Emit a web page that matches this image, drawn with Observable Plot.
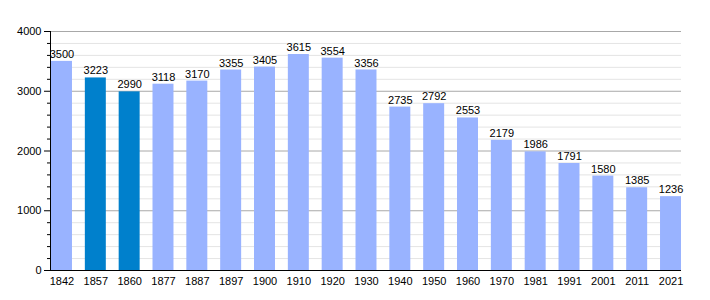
<!DOCTYPE html>
<html><head><meta charset="utf-8">
<script src="https://cdn.jsdelivr.net/npm/d3@7"></script>
<script src="https://cdn.jsdelivr.net/npm/@observablehq/plot@0.6"></script>
<style>body{margin:0;background:#fff;font-family:"Liberation Sans",Arial,sans-serif}</style>
</head><body><div id="chart"></div>
<script>
const years = ["1842","1857","1860","1877","1887","1897","1900","1910","1920","1930","1940","1950","1960","1970","1981","1991","2001","2011","2021"];
const population = [3500,3223,2990,3118,3170,3355,3405,3615,3554,3356,2735,2792,2553,2179,1986,1791,1580,1385,1236];
const highlighted = ["1857","1860"];
const majorTicks = [0,1000,2000,3000,4000];
const minorTicks = d3.range(0,4001,200).filter(v => v % 1000 !== 0);

const data = years.map((y,i) => ({year:y, pop:population[i], hl: highlighted.includes(y)}));

const chart = Plot.plot({
  width: 710, height: 300,
  marginLeft: 51, marginRight: 29, marginTop: 31, marginBottom: 30,
  style: {fontFamily: "Liberation Sans, Arial, sans-serif", fontSize: "11px", color: "#000"},
  x: {domain: years, paddingInner: 0.38, paddingOuter: 0, round: false, label: null},
  y: {domain: [0,4000], label: null},
  marks: [
    Plot.ruleY(minorTicks, {stroke: "#e4e4e4", strokeWidth: 1}),
    Plot.ruleY(majorTicks, {stroke: "#a8a8a8", strokeWidth: 1}),
    Plot.barY(data, {x: "year", y: "pop", fill: d => d.hl ? "#0080cc" : "#99b3ff"}),
    Plot.text(data, {x: "year", y: "pop", text: d => String(d.pop), dy: -7, fill: "#000", fontSize: 11}),
    Plot.axisY(majorTicks, {tickSize: 6, tickPadding: 3, fontSize: 11, tickFormat: d => String(d), dx: -1}),
    Plot.axisY(minorTicks, {tickSize: 3, tickFormat: () => "", dx: -1}),
    Plot.axisX({tickSize: 0, tickPadding: 7, fontSize: 11}),
    Plot.ruleY([0], {stroke: "#000"}),
    Plot.frame({anchor: "left", stroke: "#000", dx: -1})
  ]
});
document.getElementById("chart").append(chart);
</script></body></html>
